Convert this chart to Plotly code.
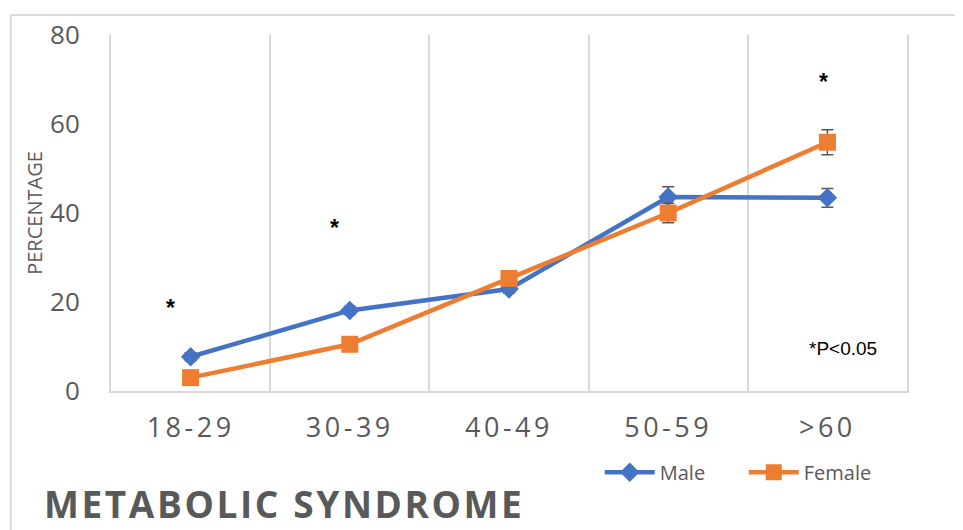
import plotly.graph_objects as go

age_groups = ["18-29", "30-39", "40-49", "50-59", ">60"]
male = [7.7, 18.1, 22.9, 43.6, 43.4]
female = [3.0, 10.5, 25.3, 40.0, 55.9]
male_err = [0.9, 0.9, 0.9, 2.3, 2.1]
female_err = [0.9, 1.0, 1.0, 2.2, 2.8]

# significance marks (* above groups)
star_groups = ["18-29", "30-39", ">60"]
star_y = [18.6, 36.6, 69.5]
star_shift = [-20, -15, -4]

GRAY = "#595959"
FONT = "Open Sans"

fig = go.Figure()

fig.add_trace(go.Scatter(
    x=age_groups, y=male, name="Male", mode="lines+markers",
    line=dict(color="#4472C4", width=4.5),
    marker=dict(symbol="diamond", size=15, color="#4472C4"),
    error_y=dict(type="data", array=male_err, color=GRAY, thickness=1.5, width=6),
))
fig.add_trace(go.Scatter(
    x=age_groups, y=female, name="Female", mode="lines+markers",
    line=dict(color="#ED7D31", width=4.5),
    marker=dict(symbol="square", size=17, color="#ED7D31"),
    error_y=dict(type="data", array=female_err, color=GRAY, thickness=1.5, width=6),
))

for g, yv, dx in zip(star_groups, star_y, star_shift):
    fig.add_annotation(x=g, y=yv, text="<b>*</b>", showarrow=False, xshift=dx,
                       font=dict(family="Liberation Sans", size=23, color="black"))

fig.add_annotation(xref="paper", yref="paper", x=0.92, y=0.118, xanchor="center", yanchor="middle",
                   text="*P<0.05", showarrow=False,
                   font=dict(family="Liberation Sans", size=19, color="black"))

fig.add_annotation(xref="paper", yref="paper", x=-0.085, y=-0.317, xanchor="left", yanchor="middle",
                   text='<span style="letter-spacing:2.6px"><b>METABOLIC SYNDROME</b></span>',
                   showarrow=False, borderpad=0, font=dict(family=FONT, size=37, color=GRAY))

# outer chart frame (top and left edges visible)
fig.add_shape(type="line", xref="paper", yref="paper", x0=-0.126, x1=1.1, y0=1.056, y1=1.056,
              line=dict(color="#d9d9d9", width=2))
fig.add_shape(type="line", xref="paper", yref="paper", x0=-0.126, x1=-0.126, y0=1.056, y1=-0.5,
              line=dict(color="#d9d9d9", width=2))

tick_text = ['<span style="letter-spacing:3.5px">%s</span>' % g for g in age_groups]

# page body has an 8px margin, so the figure is sized 8px smaller on each axis
fig.update_layout(
    width=955, height=522,
    paper_bgcolor="white", plot_bgcolor="white",
    margin=dict(l=103, r=56, t=27, b=139, autoexpand=False),
    font=dict(family=FONT, color=GRAY),
    showlegend=True,
    legend=dict(orientation="h", x=0.614, y=-0.228, xanchor="left", yanchor="middle",
                font=dict(size=20, color=GRAY), itemwidth=50, entrywidth=79),
    xaxis=dict(type="category", range=[-0.5, 4.5], tickson="boundaries", showgrid=True,
               gridcolor="#d9d9d9", gridwidth=2,
               tickmode="array", tickvals=age_groups, ticktext=tick_text,
               showline=True, linecolor="#d9d9d9", linewidth=2, ticks="",
               tickfont=dict(size=27, color=GRAY), ticklabelstandoff=12),
    yaxis=dict(range=[0, 80], tickvals=[0, 20, 40, 60, 80], showgrid=False, zeroline=False,
               showline=True, mirror=True, linecolor="#d9d9d9", linewidth=2,
               tickfont=dict(size=26, color=GRAY), ticklabelstandoff=24,
               title=dict(text="PERCENTAGE", font=dict(size=20, color=GRAY), standoff=2)),
)

fig.write_html("out.html")
